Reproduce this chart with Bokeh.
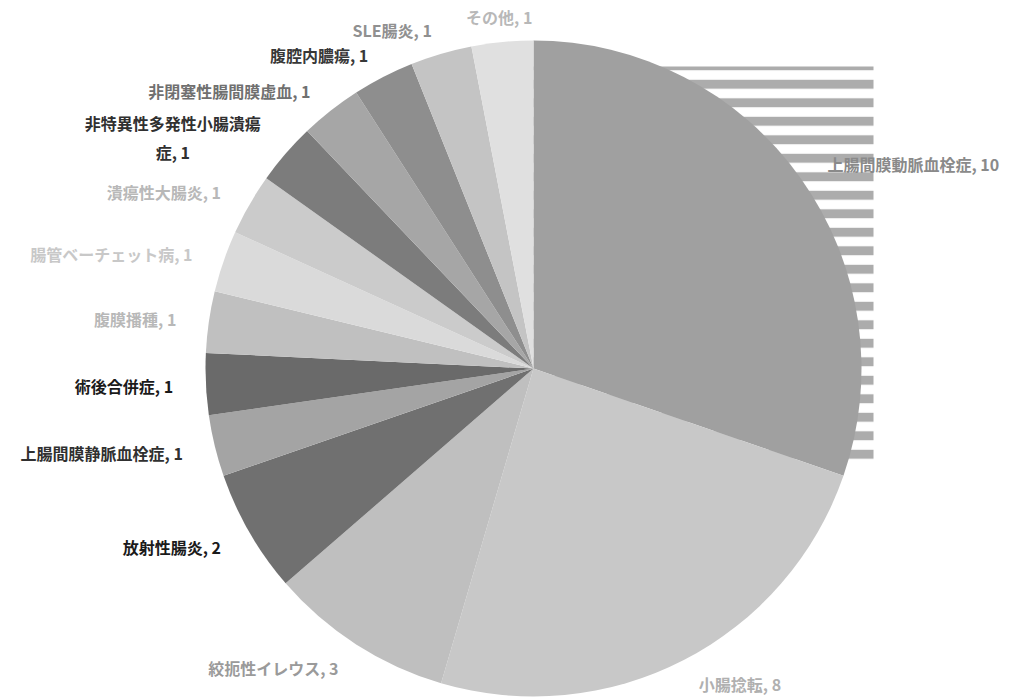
import math
from bokeh.plotting import figure
from bokeh.models import ColumnDataSource, Range1d
from bokeh.core.properties import value
from bokeh.embed import file_html
from bokeh.resources import INLINE

# ---- data (clockwise from 12 o'clock) ----
categories = [
    "上腸間膜動脈血栓症", "小腸捻転", "絞扼性イレウス", "放射性腸炎",
    "上腸間膜静脈血栓症", "術後合併症", "腹膜播種", "腸管ベーチェット病",
    "潰瘍性大腸炎", "非特異性多発性小腸潰瘍症", "非閉塞性腸間膜虚血",
    "腹腔内膿瘍", "SLE腸炎", "その他",
]
counts = [10, 8, 3, 2, 1, 1, 1, 1, 1, 1, 1, 1, 1, 1]

# ---- styles ----
slice_colors = [
    "#a0a0a0", "#c8c8c8", "#bfbfbf", "#707070",
    "#a4a4a4", "#6a6a6a", "#c0c0c0", "#dadada",
    "#cbcbcb", "#7c7c7c", "#a6a6a6", "#8e8e8e",
    "#c4c4c4", "#e0e0e0",
]
label_colors = [
    "#8a8a8a", "#b0b0b0", "#9a9a9a", "#1a1a1a",
    "#303030", "#1a1a1a", "#b8b8b8", "#c8c8c8",
    "#b8b8b8", "#303030", "#707070", "#383838",
    "#909090", "#b8b8b8",
]

W, H = 1012, 698
R = 328.0          # pie radius in px
CX, CY = 533, 368  # pie centre in figure px (from top-left)
FS = 16

total = sum(counts)
starts, ends, lx, ly, aligns, xoffs, texts = [], [], [], [], [], [], []
cum = 0.0
for cat, c in zip(categories, counts):
    a0 = math.pi / 2 - 2 * math.pi * cum / total
    cum += c
    a1 = math.pi / 2 - 2 * math.pi * cum / total
    starts.append(a1)
    ends.append(a0)
    mid = (a0 + a1) / 2
    cx, sy = math.cos(mid), math.sin(mid)
    lx.append(1.1 * cx)
    ly.append(1.08 * sy)
    label = f"{cat}, {c}"
    if cat == "非特異性多発性小腸潰瘍症":
        first = cat[:-1]
        label = f"{first}\n{cat[-1]}, {c}"
        aligns.append("center")
        xoffs.append(-len(first) * FS / 2 if cx < 0 else len(first) * FS / 2)
    else:
        if cx > 0.1:
            aligns.append("left")
        elif cx < -0.1:
            aligns.append("right")
        else:
            aligns.append("center")
        xoffs.append(0)
    texts.append(label)

src = ColumnDataSource(dict(start=starts, end=ends, color=slice_colors))
lsrc = ColumnDataSource(dict(x=lx, y=ly, text=texts, color=label_colors,
                             align=aligns, xoff=xoffs))

p = figure(width=W, height=H, output_backend="svg", toolbar_location=None,
           x_range=Range1d(-CX / R, (W - CX) / R),
           y_range=Range1d(-(H - CY) / R, CY / R),
           min_border=0)
p.axis.visible = False
p.grid.visible = False
p.outline_line_color = None
p.background_fill_color = "white"

# scan-stripe texture seen behind the right half of the pie
p.quad(left=0, right=(873 - 533) / R, bottom=(368 - 462) / R, top=(368 - 66) / R,
       fill_color=None, line_color=None,
       hatch_pattern="horizontal_line", hatch_scale=18.5, hatch_weight=9,
       hatch_color="#acacac")

p.wedge(x=0, y=0, radius=1, start_angle="start", end_angle="end",
        direction="anticlock", fill_color="color", line_color=None, source=src)

p.text(x="x", y="y", text="text", text_color="color", text_align="align",
       x_offset="xoff", y_offset=1, text_baseline="middle",
       text_font=value("Noto Sans CJK JP"), text_font_style="bold",
       text_font_size=f"{FS}px", source=lsrc)

open("out.html", "w").write(file_html(p, INLINE))
